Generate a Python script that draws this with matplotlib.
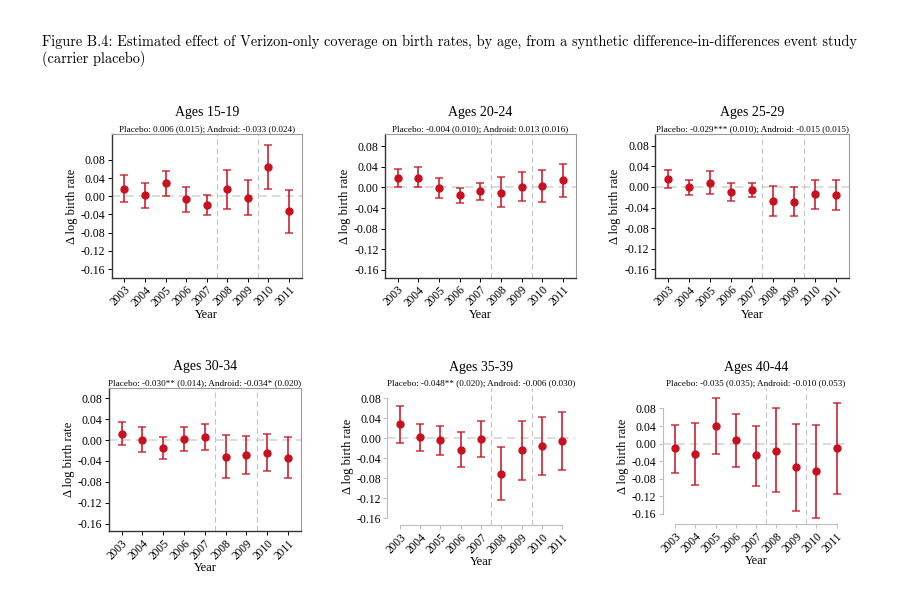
import numpy as np
from matplotlib import pyplot as plt
from matplotlib.ticker import FormatStrFormatter

plt.rcParams["font.family"] = ["Liberation Serif", "DejaVu Serif"]
plt.rcParams["axes.unicode_minus"] = False

years = [2003, 2004, 2005, 2006, 2007, 2008, 2009, 2010, 2011]
y_ticks = [-0.16, -0.12, -0.08, -0.04, 0.00, 0.04, 0.08]

titles = ["Ages 15-19", "Ages 20-24", "Ages 25-29",
          "Ages 30-34", "Ages 35-39", "Ages 40-44"]
subtitles = [
    "Placebo: 0.006 (0.015); Android: -0.033 (0.024)",
    "Placebo: -0.004 (0.010); Android: 0.013 (0.016)",
    "Placebo: -0.029*** (0.010); Android: -0.015 (0.015)",
    "Placebo: -0.030** (0.014); Android: -0.034* (0.020)",
    "Placebo: -0.048** (0.020); Android: -0.006 (0.030)",
    "Placebo: -0.035 (0.035); Android: -0.010 (0.053)",
]

# point estimates and 95% CI bounds, per age group
est_15_19 = [0.016, 0.002, 0.028, -0.007, -0.020, 0.015, -0.004, 0.064, -0.033]
lo_15_19 = [-0.0125, -0.026, 0.000, -0.034, -0.042, -0.029, -0.042, 0.015, -0.081]
hi_15_19 = [0.046, 0.029, 0.056, 0.020, 0.003, 0.058, 0.035, 0.113, 0.014]

est_20_24 = [0.018, 0.019, -0.002, -0.015, -0.007, -0.010, 0.001, 0.002, 0.014]
lo_20_24 = [0.000, 0.000, -0.021, -0.030, -0.024, -0.038, -0.026, -0.029, -0.018]
hi_20_24 = [0.036, 0.039, 0.019, -0.001, 0.009, 0.020, 0.029, 0.033, 0.046]

est_25_29 = [0.015, -0.001, 0.008, -0.010, -0.006, -0.028, -0.029, -0.014, -0.015]
lo_25_29 = [-0.003, -0.016, -0.013, -0.028, -0.019, -0.056, -0.057, -0.043, -0.045]
hi_25_29 = [0.032, 0.013, 0.030, 0.008, 0.008, 0.001, -0.001, 0.014, 0.014]

est_30_34 = [0.011, 0.001, -0.016, 0.002, 0.006, -0.032, -0.029, -0.024, -0.034]
lo_30_34 = [-0.010, -0.023, -0.037, -0.021, -0.019, -0.072, -0.065, -0.059, -0.072]
hi_30_34 = [0.034, 0.026, 0.005, 0.026, 0.031, 0.009, 0.008, 0.011, 0.005]

est_35_39 = [0.028, 0.002, -0.004, -0.023, -0.001, -0.071, -0.024, -0.015, -0.005]
lo_35_39 = [-0.009, -0.025, -0.033, -0.057, -0.037, -0.123, -0.083, -0.073, -0.063]
hi_35_39 = [0.064, 0.029, 0.025, 0.012, 0.035, -0.018, 0.035, 0.043, 0.053]

est_40_44 = [-0.011, -0.023, 0.040, 0.008, -0.027, -0.016, -0.054, -0.062, -0.011]
lo_40_44 = [-0.066, -0.094, -0.023, -0.053, -0.096, -0.111, -0.153, -0.169, -0.115]
hi_40_44 = [0.043, 0.048, 0.104, 0.068, 0.041, 0.080, 0.045, 0.043, 0.093]

groups = [
    (est_15_19, lo_15_19, hi_15_19),
    (est_20_24, lo_20_24, hi_20_24),
    (est_25_29, lo_25_29, hi_25_29),
    (est_30_34, lo_30_34, hi_30_34),
    (est_35_39, lo_35_39, hi_35_39),
    (est_40_44, lo_40_44, hi_40_44),
]

# layout: axes rectangles (fig fraction) and y limits per panel
rects = [
    [0.1225, 0.5309, 0.2083, 0.2422],
    [0.4221, 0.5309, 0.2094, 0.2422],
    [0.7185, 0.5309, 0.2124, 0.2422],
    [0.1192, 0.1030, 0.2109, 0.2410],
    [0.4247, 0.1127, 0.2058, 0.2314],
    [0.7266, 0.1149, 0.2046, 0.2292],
]
ylims = [(-0.179, 0.136), (-0.175, 0.103), (-0.176, 0.102),
         (-0.174, 0.099), (-0.174, 0.100), (-0.183, 0.126)]
boxed = [True, True, True, True, False, False]

red = "#c8101e"

fig = plt.figure(figsize=(9.12, 5.92), dpi=100)
fig.text(0.046, 0.942,
         "Figure B.4: Estimated effect of Verizon-only coverage on birth rates, by age, "
         "from a synthetic difference-in-differences event study\n(carrier placebo)",
         family=["cmr10", "DejaVu Serif"], fontsize=10.3, va="top", ha="left",
         linespacing=1.2)

for i, (est, lo, hi) in enumerate(groups):
    ax = fig.add_axes(rects[i])
    est = np.array(est)
    yerr = np.vstack([est - np.array(lo), np.array(hi) - est])

    ax.axhline(0, color="#d6d6d6", linestyle=(0, (5, 3)), linewidth=1.2, zorder=1)
    for xv in (2007.5, 2009.5):
        ax.axvline(xv, color="#c4c4c4", linestyle=(0, (5, 3)), linewidth=0.8, zorder=1)

    ax.errorbar(years, est, yerr=yerr, fmt="none", ecolor=red, alpha=0.85,
                elinewidth=1.3, capsize=2.6, capthick=1.1, zorder=2)
    ax.plot(years, est, "o", color=red, markersize=5, zorder=3)

    ax.set_xlim(2002.38, 2011.63)
    ax.set_ylim(*ylims[i])
    ax.set_xticks(years)
    ax.set_xticklabels([str(y) for y in years], rotation=45, ha="right",
                       rotation_mode="anchor", fontsize=8.3)
    ax.set_yticks(y_ticks)
    ax.yaxis.set_major_formatter(FormatStrFormatter("%.2f"))
    ax.tick_params(axis="y", labelsize=8.5, length=3, width=0.7, pad=1.5)
    ax.tick_params(axis="x", length=3, width=0.7, pad=1.5)

    ax.set_ylabel("Δ log birth rate", fontsize=9, labelpad=2)
    ax.set_xlabel("Year", fontsize=9, labelpad=0)
    ax.set_title(subtitles[i], fontsize=6.6, pad=2.5)
    ax.text(0.5, 1.105, titles[i], transform=ax.transAxes, fontsize=10,
            ha="center", va="bottom")

    if boxed[i]:
        for s in ("left", "bottom"):
            ax.spines[s].set_color("#333333")
            ax.spines[s].set_linewidth(1.0)
        for s in ("top", "right"):
            ax.spines[s].set_color("#9a9a9a")
            ax.spines[s].set_linewidth(0.8)
    else:
        for s in ("top", "right"):
            ax.spines[s].set_visible(False)
        for s in ("left", "bottom"):
            ax.spines[s].set_color("#bdbdbd")
            ax.spines[s].set_linewidth(0.8)
        ax.spines["left"].set_bounds(y_ticks[0], y_ticks[-1])
        ax.spines["bottom"].set_bounds(years[0], years[-1])
        ax.tick_params(colors="#bdbdbd", labelcolor="black")

fig.savefig("out.png", dpi=100)
